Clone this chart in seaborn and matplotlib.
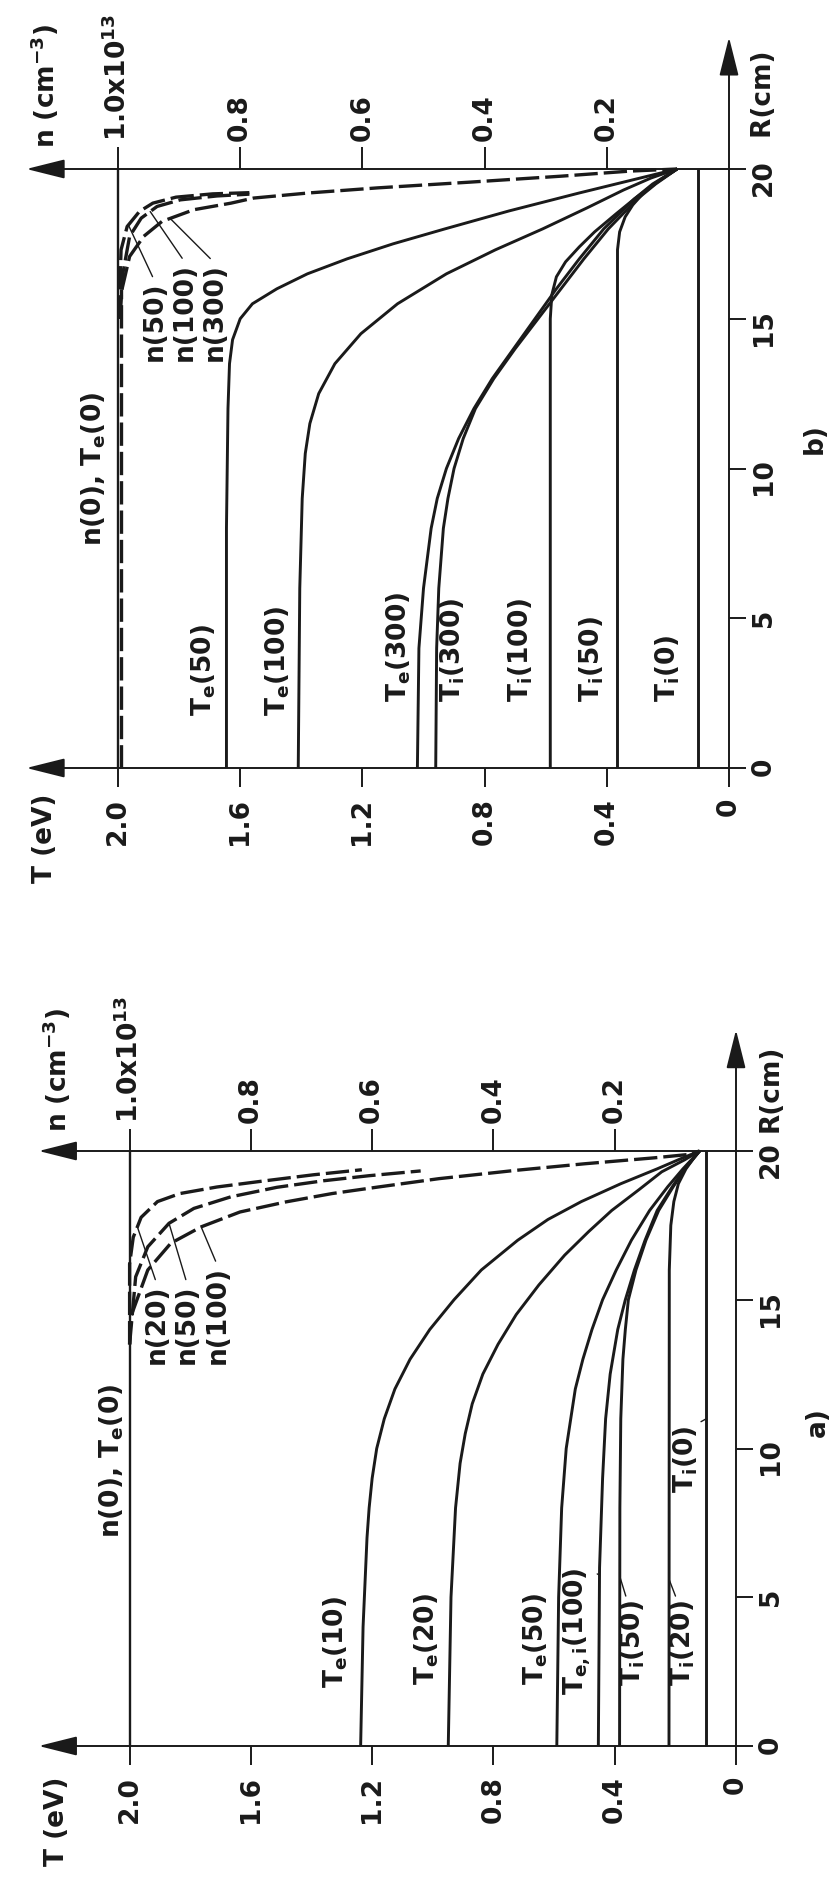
import numpy as np
import pandas as pd
import matplotlib
matplotlib.use("Agg")
import matplotlib.pyplot as plt
import seaborn as sns

sns.set_style("white")
plt.rcParams["font.family"] = ["DejaVu Sans"]
plt.rcParams["font.weight"] = "bold"
plt.rcParams["mathtext.fontset"] = "custom"
plt.rcParams["mathtext.rm"] = "DejaVu Sans:bold"
plt.rcParams["mathtext.it"] = "DejaVu Sans:bold"
plt.rcParams["mathtext.bf"] = "DejaVu Sans:bold"
plt.rcParams["mathtext.sf"] = "DejaVu Sans:bold"
plt.rcParams["mathtext.default"] = "regular"

INK = "#1a1a1a"
FS = 19

# ---------------- axis ticks ----------------
T_ticks = [0, 0.4, 0.8, 1.2, 1.6, 2.0]
T_ticklabels = ["0", "0.4", "0.8", "1.2", "1.6", "2.0"]
R_ticks = [0, 5, 10, 15, 20]
R_ticklabels = ["0", "5", "10", "15", "20"]
n_ticks = [0.2, 0.4, 0.6, 0.8, 1.0]
n_ticklabels = ["0.2", "0.4", "0.6", "0.8", "1.0x10$^{13}$"]

# ---------------- panel a) data (R in cm, T in eV, n in 1e13 cm^-3) ----------------
a_R_Te0 = [0, 20]
a_T_Te0 = [2.0, 2.0]
a_R_Te10 = [0, 4, 7, 8, 9, 10, 11, 12, 13, 14, 15, 16, 17, 17.7, 18.3, 18.9, 19.4, 19.75, 20]
a_T_Te10 = [1.238, 1.23, 1.217, 1.21, 1.2, 1.185, 1.16, 1.125, 1.075, 1.01, 0.93, 0.84, 0.72, 0.62, 0.51, 0.38, 0.26, 0.18, 0.12]
a_R_Te20 = [0, 5, 8, 9.5, 10.5, 11.5, 12.5, 13.5, 14.5, 15.5, 16.5, 17.3, 18, 18.7, 19.3, 19.7, 20]
a_T_Te20 = [0.949, 0.94, 0.925, 0.91, 0.893, 0.87, 0.835, 0.785, 0.725, 0.65, 0.565, 0.485, 0.41, 0.32, 0.245, 0.17, 0.12]
a_R_Te50 = [0, 5, 8, 10, 12, 13, 14, 15, 16, 17, 18, 18.8, 19.4, 20]
a_T_Te50 = [0.591, 0.585, 0.575, 0.56, 0.53, 0.505, 0.475, 0.44, 0.395, 0.345, 0.285, 0.225, 0.175, 0.12]
a_R_Tei100 = [0, 6, 9, 11, 12.5, 14, 15, 16, 17, 18, 18.8, 19.4, 20]
a_T_Tei100 = [0.454, 0.45, 0.44, 0.43, 0.415, 0.39, 0.365, 0.335, 0.30, 0.26, 0.21, 0.17, 0.12]
a_R_Ti50 = [0, 8, 11, 13, 14, 15, 16, 17, 18, 18.8, 19.4, 20]
a_T_Ti50 = [0.384, 0.383, 0.38, 0.373, 0.365, 0.355, 0.33, 0.297, 0.255, 0.207, 0.168, 0.12]
a_R_Ti20 = [0, 16, 17.5, 18.3, 18.9, 19.4, 19.75, 20]
a_T_Ti20 = [0.221, 0.22, 0.215, 0.205, 0.19, 0.165, 0.14, 0.12]
a_R_Ti0 = [0, 20]
a_T_Ti0 = [0.098, 0.098]

a_R_n20 = [13.5, 14.4, 16.2, 17.1, 17.77, 18.3, 18.57, 18.79, 18.99, 19.2, 19.37]
a_n_n20 = [1.0, 1.0, 1.0, 0.994, 0.981, 0.954, 0.917, 0.856, 0.78, 0.697, 0.617]
a_R_n50 = [13.5, 15.77, 16.78, 17.57, 18.07, 18.46, 18.78, 19.0, 19.17, 19.33]
a_n_n50 = [1.0, 0.99, 0.97, 0.935, 0.894, 0.833, 0.757, 0.68, 0.605, 0.52]
a_R_n100 = [13.5, 14.43, 16.0, 16.9, 17.45, 17.95, 18.29, 18.57, 18.79, 19.07, 19.35, 19.57, 19.77, 19.88, 20]
a_n_n100 = [1.0, 0.998, 0.97, 0.932, 0.882, 0.818, 0.742, 0.666, 0.59, 0.49, 0.363, 0.25, 0.135, 0.08, 0.06]

# ---------------- panel b) data ----------------
b_R_Te0 = [0, 20]
b_T_Te0 = [2.0, 2.0]
b_R_Te50 = [0, 8, 12, 13.5, 14.3, 15.0, 15.5, 16.0, 16.5, 17.0, 17.5, 18.0, 18.6, 19.2, 19.7, 20]
b_T_Te50 = [1.645, 1.645, 1.64, 1.635, 1.625, 1.60, 1.56, 1.48, 1.38, 1.25, 1.10, 0.93, 0.72, 0.49, 0.29, 0.17]
b_R_Te100 = [0, 6, 9, 10.5, 11.5, 12.5, 13.5, 14.5, 15.5, 16.5, 17.3, 18, 18.7, 19.3, 19.7, 20]
b_T_Te100 = [1.41, 1.405, 1.397, 1.387, 1.372, 1.343, 1.29, 1.205, 1.085, 0.925, 0.765, 0.61, 0.465, 0.345, 0.255, 0.17]
b_R_Te300 = [0, 4, 6, 8, 9, 10, 11, 12, 13, 14, 15, 16, 17, 18, 19, 19.5, 20]
b_T_Te300 = [1.02, 1.015, 1.0, 0.975, 0.955, 0.925, 0.885, 0.835, 0.775, 0.705, 0.635, 0.565, 0.49, 0.41, 0.31, 0.25, 0.17]
b_R_Ti300 = [0, 4, 6, 8, 9, 10, 11, 12, 13, 14, 15, 16, 17, 18, 19, 19.5, 20]
b_T_Ti300 = [0.96, 0.957, 0.95, 0.935, 0.92, 0.90, 0.87, 0.83, 0.77, 0.70, 0.625, 0.55, 0.475, 0.395, 0.30, 0.24, 0.17]
b_R_Ti100 = [0, 15, 15.8, 16.4, 16.9, 17.4, 17.9, 18.5, 19.0, 19.5, 20]
b_T_Ti100 = [0.585, 0.585, 0.58, 0.565, 0.535, 0.49, 0.44, 0.37, 0.31, 0.245, 0.17]
b_R_Ti50 = [0, 17.3, 17.9, 18.4, 18.8, 19.2, 19.6, 20]
b_T_Ti50 = [0.365, 0.365, 0.358, 0.34, 0.315, 0.28, 0.23, 0.17]
b_R_Ti0 = [0, 20]
b_T_Ti0 = [0.1, 0.1]

b_R_n0 = [0, 16]
b_n_n0 = [0.995, 0.995]
b_R_n50 = [15.0, 15.96, 17.3, 18.08, 18.58, 18.86, 19.06, 19.17, 19.21]
b_n_n50 = [0.998, 0.997, 0.995, 0.985, 0.965, 0.943, 0.905, 0.845, 0.785]
b_R_n100 = [15.0, 16.52, 17.75, 18.36, 18.75, 18.97, 19.1, 19.16]
b_n_n100 = [0.997, 0.992, 0.981, 0.962, 0.936, 0.898, 0.838, 0.785]
b_R_n300 = [15.0, 15.85, 17.08, 17.75, 18.25, 18.64, 18.86, 19.03, 19.2, 19.37, 19.56, 19.76, 19.93, 20]
b_n_n300 = [0.997, 0.995, 0.981, 0.958, 0.928, 0.876, 0.815, 0.778, 0.688, 0.575, 0.425, 0.275, 0.162, 0.085]

# ---------------- figure ----------------
W, H = 833, 1879
fig = plt.figure(figsize=(W / 100, H / 100), dpi=100)
fig.patch.set_facecolor("white")

SOLID_LW = 2.1
DASH_LW = 2.4
DASH = (0, (7.0, 1.8))
AX_LW = 1.4


def make_axes(px_top, px_bot, T0px, Tscale, R0px, Rscale):
    ax = fig.add_axes([0, 1 - px_bot / H, 1, (px_bot - px_top) / H])
    ax.set_facecolor("none")
    ax.set_xlim(T0px / Tscale, (T0px - W) / Tscale)
    ax.set_ylim((R0px - px_bot) / Rscale, (R0px - px_top) / Rscale)
    return ax


def solid(ax, R, T, lw=SOLID_LW):
    sns.lineplot(x=T, y=R, orient="y", estimator=None, sort=True, ax=ax,
                 color=INK, lw=lw, solid_capstyle="butt", solid_joinstyle="round")


def dashed(ax, R, n):
    sns.lineplot(x=2 * np.asarray(n), y=R, orient="y", estimator=None, sort=True,
                 ax=ax, color=INK, lw=DASH_LW, linestyle=DASH, dash_capstyle="butt")


def vtext(ax, T, R, s, **kw):
    ax.text(T, R, s, rotation=90, rotation_mode="anchor", ha="left", va="center",
            fontsize=FS, fontweight="bold", color=INK, clip_on=False, **kw)


def leader(ax, s, T_lab, R_lab, T_pt, R_pt, relx=0.5):
    ax.annotate(s, xy=(T_pt, R_pt), xytext=(T_lab, R_lab), textcoords="data",
                rotation=90, rotation_mode="anchor", ha="left", va="center",
                fontsize=FS, fontweight="bold", color=INK, annotation_clip=False,
                arrowprops=dict(arrowstyle="-", lw=1.0, color=INK, shrinkA=1,
                                shrinkB=0, relpos=(relx, 1.0)))


def arrow(ax, start, tip):
    ax.annotate("", xy=tip, xytext=start, annotation_clip=False,
                arrowprops=dict(arrowstyle="-|>,head_length=1.2,head_width=0.3",
                                mutation_scale=20, lw=AX_LW, color=INK,
                                shrinkA=0, shrinkB=0))


def decorate(ax, R_tip, r_label_R, r_label_text, n_loc_R):
    for s in ax.spines.values():
        s.set_visible(False)
    ax.spines["bottom"].set_position(("data", 0))
    ax.spines["right"].set_position(("data", 0))
    ax.xaxis.set_ticks_position("bottom")
    ax.yaxis.set_ticks_position("right")
    ax.set_xticks(T_ticks, T_ticklabels)
    ax.set_yticks(R_ticks, R_ticklabels)
    ax.tick_params(axis="x", direction="out", length=13.5, width=AX_LW, pad=8,
                   labelsize=FS, labelrotation=90, colors=INK)
    ax.tick_params(axis="y", direction="out", length=12, width=AX_LW, pad=3.5,
                   labelsize=FS, labelrotation=90, colors=INK,
                   labelright=True, labelleft=False)
    ax.set_xlabel("")
    ax.set_ylabel("")
    ylo, yhi = ax.get_ylim()
    loc = (n_loc_R - ylo) / (yhi - ylo)
    sec = ax.secondary_xaxis(loc, functions=(lambda t: t / 2.0, lambda n: n * 2.0))
    sec.set_xticks(n_ticks, n_ticklabels)
    sec.tick_params(axis="x", direction="out", length=16, width=AX_LW, pad=4,
                    labelsize=FS, labelrotation=90, colors=INK)
    for s in sec.spines.values():
        s.set_visible(False)
    arrow(ax, (0, 0), (2.30, 0))
    arrow(ax, (0, 20), (2.30, 20))
    arrow(ax, (0, 0), (0, R_tip))
    vtext(ax, -0.115, r_label_R, r_label_text)


# ================= panel b (top) =================
axb = make_axes(0, 940, 729, 305.5, 768, 29.95)
solid(axb, b_R_Te0, b_T_Te0, lw=1.7)
for R, T in [(b_R_Te50, b_T_Te50), (b_R_Te100, b_T_Te100), (b_R_Te300, b_T_Te300),
             (b_R_Ti300, b_T_Ti300), (b_R_Ti100, b_T_Ti100), (b_R_Ti50, b_T_Ti50),
             (b_R_Ti0, b_T_Ti0)]:
    solid(axb, R, T)
for R, n in [(b_R_n0, b_n_n0), (b_R_n50, b_n_n50), (b_R_n100, b_n_n100), (b_R_n300, b_n_n300)]:
    dashed(axb, R, n)
decorate(axb, 24.4, 20.75, " R(cm)", 20)
axb.set_xlim(729 / 305.5, (729 - W) / 305.5)

vtext(axb, 2.24, -3.85, "T (eV)")
vtext(axb, 2.24, 20.7, "n (cm$^{-3}$)")
vtext(axb, 2.08, 7.4, "n(0), T$_{e}$(0)")
vtext(axb, 1.72, 1.75, "T$_{e}$(50)")
vtext(axb, 1.478, 1.75, "T$_{e}$(100)")
vtext(axb, 1.08, 2.2, "T$_{e}$(300)")
vtext(axb, 0.905, 2.2, "T$_{i}$(300)")
vtext(axb, 0.683, 2.2, "T$_{i}$(100)")
vtext(axb, 0.45, 2.2, "T$_{i}$(50)")
vtext(axb, 0.2, 2.2, "T$_{i}$(0)")
vtext(axb, -0.28, 10.5, "b)")
for s, T_lab, R_at, R_data, n_data in [("n(50)", 1.88, 18.13, b_R_n50, b_n_n50),
                                       ("n(100)", 1.78, 18.58, b_R_n100, b_n_n100),
                                       ("n(300)", 1.684, 18.35, b_R_n300, b_n_n300)]:
    leader(axb, s, T_lab, 13.6, 2 * np.interp(R_at, R_data, n_data), R_at)

# ================= panel a (bottom) =================
axa = make_axes(960, 1879, 736, 303.2, 1746, 29.75)
solid(axa, a_R_Te0, a_T_Te0, lw=1.7)
for R, T in [(a_R_Te10, a_T_Te10), (a_R_Te20, a_T_Te20), (a_R_Te50, a_T_Te50),
             (a_R_Tei100, a_T_Tei100), (a_R_Ti50, a_T_Ti50), (a_R_Ti20, a_T_Ti20),
             (a_R_Ti0, a_T_Ti0)]:
    solid(axa, R, T)
for R, n in [(a_R_n20, a_n_n20), (a_R_n50, a_n_n50), (a_R_n100, a_n_n100)]:
    dashed(axa, R, n)
decorate(axa, 24.07, 20.65, "R(cm)", 20)
axa.set_xlim(736 / 303.2, (736 - W) / 303.2)

vtext(axa, 2.24, -4.05, "T (eV)")
vtext(axa, 2.24, 20.65, "n (cm$^{-3}$)")
vtext(axa, 2.06, 7.0, "n(0), T$_{e}$(0)")
vtext(axa, 1.32, 1.95, "T$_{e}$(10)")
vtext(axa, 1.02, 2.05, "T$_{e}$(20)")
vtext(axa, 0.66, 2.05, "T$_{e}$(50)")
vtext(axa, -0.27, 10.4, "a)")
leader(axa, "T$_{e,i}$(100)", 0.525, 1.7, np.interp(5.75, a_R_Tei100, a_T_Tei100), 5.75, relx=0.7)
leader(axa, "T$_{i}$(50)", 0.34, 2.0, np.interp(5.7, a_R_Ti50, a_T_Ti50), 5.7, relx=0.3)
leader(axa, "T$_{i}$(20)", 0.175, 2.0, np.interp(5.6, a_R_Ti20, a_T_Ti20), 5.6, relx=0.3)
leader(axa, "T$_{i}$(0)", 0.167, 8.5, np.interp(11.0, a_R_Ti0, a_T_Ti0), 11.0, relx=0.8)
for s, T_lab, R_at, R_data, n_data in [("n(20)", 1.91, 17.45, a_R_n20, a_n_n20),
                                       ("n(50)", 1.81, 17.57, a_R_n50, a_n_n50),
                                       ("n(100)", 1.71, 17.45, a_R_n100, a_n_n100)]:
    leader(axa, s, T_lab, 12.85, 2 * np.interp(R_at, R_data, n_data), R_at)

fig.savefig("out.png", dpi=100, facecolor="white")
